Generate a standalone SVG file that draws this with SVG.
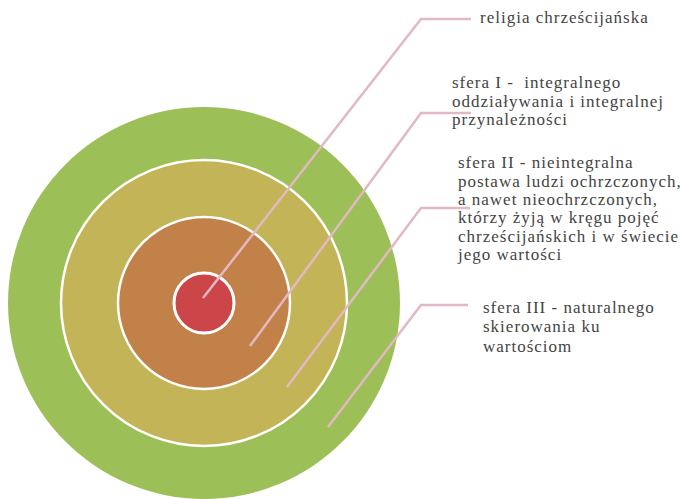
<svg xmlns="http://www.w3.org/2000/svg" width="684" height="499" viewBox="0 0 684 499">
<style>
.ring{stroke:#ffffff;stroke-width:2.5}
.con{fill:none;stroke:#e2b9c2;stroke-width:2.5;stroke-linejoin:miter}
.lbl{font-family:"Liberation Serif","DejaVu Serif",serif;font-size:17px;fill:#444444;letter-spacing:1px}
</style>
<rect width="684" height="499" fill="#ffffff"/>
<g id="sfera-III"><circle cx="204" cy="303" r="196" fill="#9dbf57"/></g>
<g id="sfera-II"><circle class="ring" cx="204" cy="303" r="143" fill="#c3b457"/></g>
<g id="sfera-I"><circle class="ring" cx="204" cy="303" r="86" fill="#c3814a"/></g>
<g id="religia"><circle class="ring" cx="204" cy="303" r="30" fill="#cc4549" style="stroke-width:3"/></g>
<g id="connectors">
<polyline class="con" points="203,298 421,19 471,19"/>
<polyline class="con" points="250,346 421,113 471,113"/>
<polyline class="con" points="287,387 421,208 470,208"/>
<polyline class="con" points="328,427 421,305 468,305"/>
</g>
<g id="label-religia"><text class="lbl" x="480" y="23">religia chrześcijańska</text></g>
<g id="label-sfera-I"><text class="lbl"><tspan x="452" y="88">sfera I - &#160;integralnego</tspan><tspan x="452" y="107">oddziaływania i integralnej</tspan><tspan x="452" y="125">przynależności</tspan></text></g>
<g id="label-sfera-II"><text class="lbl"><tspan x="458" y="168">sfera II - nieintegralna</tspan><tspan x="458" y="187">postawa ludzi ochrzczonych,</tspan><tspan x="458" y="205">a nawet nieochrzczonych,</tspan><tspan x="458" y="223">którzy żyją w kręgu pojęć</tspan><tspan x="458" y="242">chrześcijańskich i w świecie</tspan><tspan x="458" y="260">jego wartości</tspan></text></g>
<g id="label-sfera-III"><text class="lbl"><tspan x="483" y="313">sfera III - naturalnego</tspan><tspan x="483" y="332">skierowania ku</tspan><tspan x="483" y="352">wartościom</tspan></text></g>
</svg>
